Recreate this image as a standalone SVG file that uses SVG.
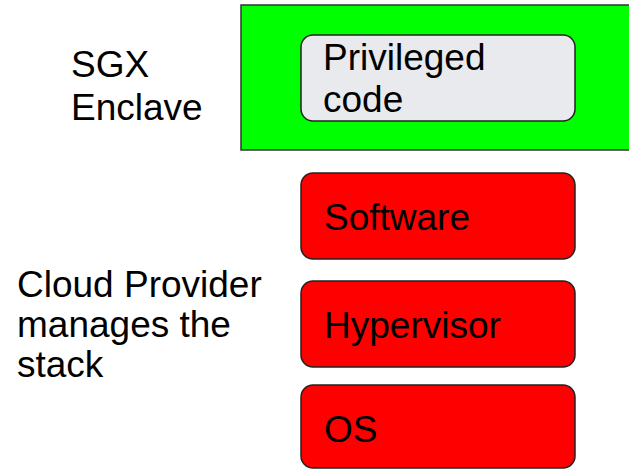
<svg xmlns="http://www.w3.org/2000/svg" width="629" height="469" viewBox="0 0 629 469">
<style>
text{font-family:"Liberation Sans",Arial,sans-serif;font-size:37px;fill:#000}
.red{fill:#ff0000;stroke:#222;stroke-width:1.5}
</style>
<rect width="629" height="469" fill="#fff"/>
<g id="enclave">
<rect x="241" y="5" width="400" height="145" fill="#00ff00" stroke="#333" stroke-width="1.5"/>
</g>
<g id="privileged">
<rect x="301" y="35" width="274" height="86" rx="12" fill="#e8eaed" stroke="#222" stroke-width="1.5"/>
<text x="323" y="70">Privileged</text>
<text x="323" y="112">code</text>
</g>
<g id="software">
<rect class="red" x="301" y="173" width="274" height="86" rx="12"/>
<text x="324" y="230">Software</text>
</g>
<g id="hypervisor">
<rect class="red" x="301" y="281" width="274" height="86" rx="12"/>
<text x="324" y="338">Hypervisor</text>
</g>
<g id="os">
<rect class="red" x="301" y="385" width="274" height="83" rx="12"/>
<text x="324" y="442">OS</text>
</g>
<g id="labels">
<text x="71" y="77">SGX</text>
<text x="71" y="120">Enclave</text>
<text x="17" y="297">Cloud Provider</text>
<text x="17" y="337">manages the</text>
<text x="17" y="377">stack</text>
</g>
<g id="connectors"></g>
</svg>
